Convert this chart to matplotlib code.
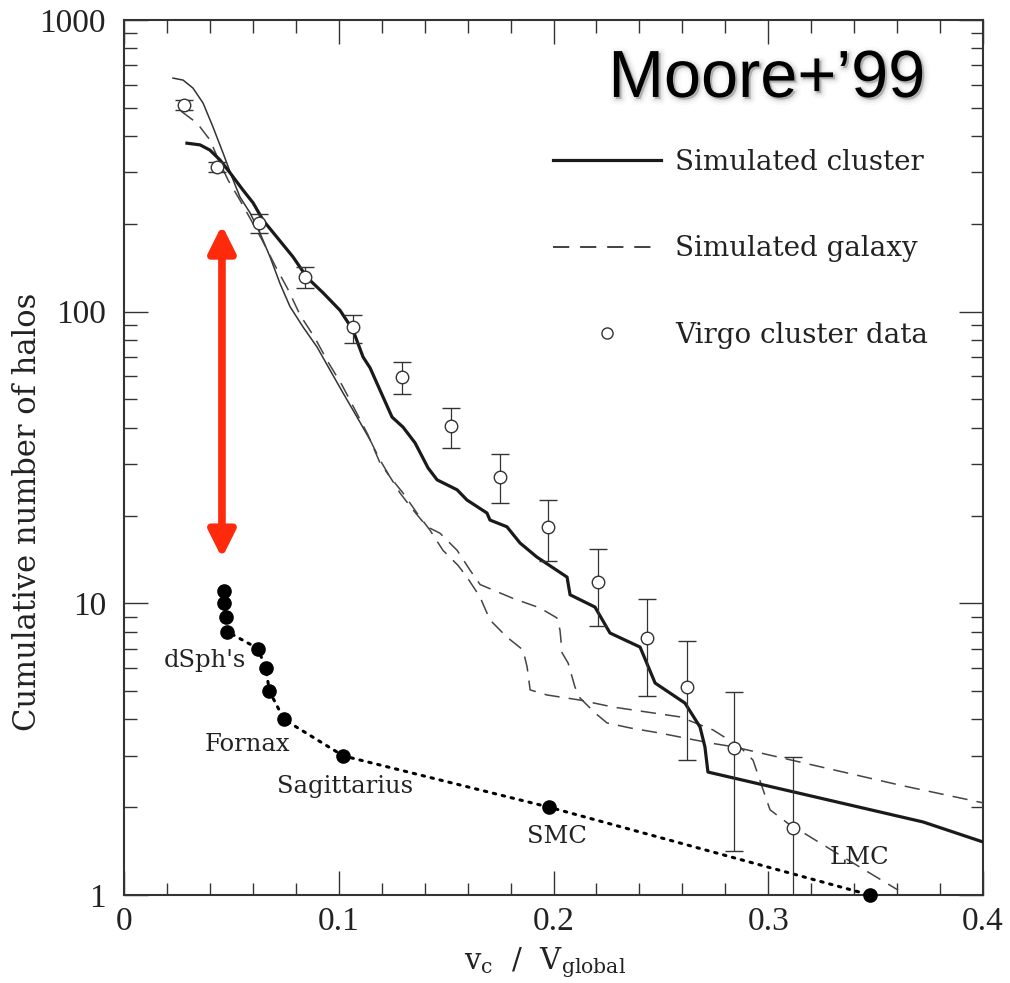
import numpy as np
import matplotlib
matplotlib.use('Agg')
import matplotlib.pyplot as plt
import matplotlib.patheffects as pe
from matplotlib.lines import Line2D
from matplotlib.ticker import FixedLocator, FixedFormatter, LogLocator, NullFormatter, MultipleLocator

plt.rcParams['font.family'] = 'DejaVu Serif'
plt.rcParams['mathtext.fontset'] = 'dejavuserif'

# Simulated cluster: cumulative halo counts vs v_c / V_global
cluster_v = [0.0293, 0.0354, 0.0400, 0.0447, 0.0494, 0.0554, 0.0601, 0.0647, 0.0712, 0.0787,
             0.0852, 0.0927, 0.1006, 0.1066, 0.1113, 0.1146, 0.1192, 0.1248, 0.1299, 0.1355,
             0.1416, 0.1458, 0.1551, 0.1597, 0.1690, 0.1704, 0.1783, 0.1844, 0.1923, 0.2063,
             0.2077, 0.2193, 0.2263, 0.2403, 0.2473, 0.2612, 0.2682, 0.2705, 0.2719, 0.3721, 0.4000]
cluster_n = [378, 373, 358, 331, 299, 261, 236, 206, 180, 154,
             131, 116, 101, 86.5, 69.9, 64.1, 53.8, 43.5, 40.2, 35.5,
             29.1, 26.5, 24.5, 22.6, 20.4, 19.3, 18.3, 16.1, 14.4, 12.3,
             10.7, 9.71, 7.91, 7.08, 5.33, 4.55, 3.77, 3.22, 2.64, 1.78, 1.52]

# Simulated galaxy, first run (thin line)
gal1_v = [0.0228, 0.0275, 0.0321, 0.0368, 0.0414, 0.0461, 0.0503, 0.0540, 0.0587, 0.0633,
          0.0680, 0.0726, 0.0773, 0.0834, 0.0899, 0.0959, 0.1020, 0.1085, 0.1146, 0.1192,
          0.1239, 0.1299, 0.1364, 0.1425, 0.1485, 0.1555, 0.1597, 0.1658, 0.1704, 0.1783,
          0.1858, 0.1877, 0.1891, 0.1970, 0.2123, 0.2277, 0.2463, 0.2589, 0.2743, 0.2868,
          0.2929, 0.2971, 0.3008, 0.3087, 0.3320, 0.3604]
gal1_n = [632, 622, 584, 519, 430, 350, 289, 247, 218, 186,
          154, 125, 104, 88.5, 75.6, 63.1, 52.6, 43.5, 36.3, 31.0,
          27.1, 23.9, 20.4, 17.8, 15.2, 13.5, 12.3, 10.5, 8.77, 7.66,
          6.92, 6.05, 5.05, 4.85, 4.66, 4.41, 4.21, 4.08, 3.68, 3.22,
          2.90, 2.35, 1.96, 1.77, 1.39, 1.04]
gal1_solid_end = 18   # the high end of this curve is drawn as a solid line

# Simulated galaxy, second run (dashed)
gal2_v = [0.0265, 0.0340, 0.0400, 0.0447, 0.0484, 0.0540, 0.0573, 0.0643, 0.0703, 0.0764,
          0.0820, 0.0889, 0.0950, 0.1015, 0.1076, 0.1136, 0.1192, 0.1239, 0.1285, 0.1346,
          0.1411, 0.1471, 0.1551, 0.1611, 0.1658, 0.1811, 0.1937, 0.2016, 0.2030, 0.2040,
          0.2068, 0.2100, 0.2123, 0.2193, 0.2249, 0.2356, 0.2496, 0.2589, 0.2729, 0.2841,
          0.3614, 0.4000]
gal2_n = [487, 443, 388, 323, 283, 241, 218, 176, 144, 119,
          97.3, 81.2, 67.2, 56.0, 46.0, 37.8, 30.3, 27.1, 23.9, 20.9,
          18.3, 17.4, 15.2, 13.0, 11.6, 10.4, 9.64, 8.91, 8.10, 6.76,
          6.24, 5.16, 4.74, 4.21, 3.89, 3.74, 3.59, 3.48, 3.32, 3.22,
          2.38, 2.07]

# Virgo cluster data with error bars
virgo_v = [0.0279, 0.0433, 0.0629, 0.0843, 0.1066, 0.1295, 0.1523, 0.1751, 0.1974, 0.2207,
           0.2435, 0.2622, 0.2841, 0.3115]
virgo_n = [511, 313, 201, 131.5, 88.6, 59.7, 40.5, 27.1, 18.3, 11.8, 7.6, 5.16, 3.19, 1.70]
virgo_lo = [491, 301, 186, 120.5, 78.1, 52.2, 34.1, 22.1, 14.0, 8.36, 4.81, 2.90, 1.415, 1.0]
virgo_hi = [531, 326, 216, 142, 97.3, 67.2, 46.7, 32.5, 22.6, 15.4, 10.35, 7.43, 4.96, 2.97]

# Local Group satellites
sat_v = [0.0467, 0.0467, 0.0475, 0.0481, 0.0623, 0.0660, 0.0677, 0.0745, 0.1021, 0.1980, 0.3474]
sat_n = [11, 10, 9, 8, 7, 6, 5, 4, 3, 2, 1]
sat_names = ["dSph's", 'Fornax', 'Sagittarius', 'SMC', 'LMC']
sat_name_v = [0.0377, 0.0573, 0.1029, 0.2016, 0.3427]
sat_name_n = [6.39, 3.29, 2.35, 1.59, 1.34]

# gap between galaxy and satellite counts
gap_v = 0.0456
gap_top, gap_bottom = 198, 14.3

fig = plt.figure(figsize=(10.10, 9.83), dpi=100)
ax = fig.add_axes([0.1228, 0.0895, 0.8505, 0.8902])

ink = '#1a1a1a'
ax.plot(cluster_v, cluster_n, color=ink, lw=2.3, solid_joinstyle='round', zorder=4)
ax.plot(gal1_v[:gal1_solid_end + 1], gal1_n[:gal1_solid_end + 1], color='#333333', lw=1.1, zorder=3)
ax.plot(gal1_v[gal1_solid_end:], gal1_n[gal1_solid_end:], color='#444444', lw=1.1,
        dashes=(10, 6), zorder=3)
ax.plot(gal2_v, gal2_n, color='#444444', lw=1.1, dashes=(10, 6), zorder=3)

virgo_n_arr = np.array(virgo_n)
yerr = [virgo_n_arr - np.array(virgo_lo), np.array(virgo_hi) - virgo_n_arr]
ax.errorbar(virgo_v, virgo_n, yerr=yerr, fmt='o', ms=9, mfc='white', mec='#333333', mew=1.0,
            ecolor='#333333', elinewidth=0.9, capsize=6.5, capthick=0.9, zorder=5)

ax.plot(sat_v, sat_n, color='black', lw=2.2, linestyle=(0, (0.8, 2.2)),
        dash_capstyle='round', zorder=4)
ax.plot(sat_v, sat_n, 'o', color='black', ms=9.5, zorder=6, clip_on=False)
for name, xv, nv in zip(sat_names, sat_name_v, sat_name_n):
    ax.text(xv, nv, name, fontsize=17.5, ha='center', va='center', color='#222222')

ax.annotate('', xy=(gap_v, gap_top), xytext=(gap_v, gap_bottom),
            arrowprops=dict(arrowstyle='<|-|>', color='#ff2a0c', lw=5.5,
                            mutation_scale=40, shrinkA=0, shrinkB=0), zorder=7)

ax.set_yscale('log')
ax.set_xlim(0, 0.4)
ax.set_ylim(1, 1000)

ax.xaxis.set_major_locator(FixedLocator([0, 0.1, 0.2, 0.3, 0.4]))
ax.xaxis.set_major_formatter(FixedFormatter(['0', '0.1', '0.2', '0.3', '0.4']))
ax.xaxis.set_minor_locator(MultipleLocator(0.02))
ax.yaxis.set_major_locator(FixedLocator([1, 10, 100, 1000]))
ax.yaxis.set_major_formatter(FixedFormatter(['1', '10', '100', '1000']))
ax.yaxis.set_minor_locator(LogLocator(base=10, subs=np.arange(2, 10)))
ax.yaxis.set_minor_formatter(NullFormatter())

ax.tick_params(which='both', direction='in', top=True, right=True, color='#333333')
ax.tick_params(which='major', length=17, width=1.0)
ax.tick_params(which='minor', length=9, width=1.0)
ax.tick_params(axis='y', which='major', pad=13)
ax.tick_params(axis='x', which='major', pad=8)
for lab in ax.get_xticklabels() + ax.get_yticklabels():
    lab.set_family('Liberation Serif')
    lab.set_fontsize(24)
    lab.set_color('#222222')
for sp in ax.spines.values():
    sp.set_linewidth(1.5)
    sp.set_color('#333333')

ax.set_ylabel('Cumulative number of halos', fontsize=22, color='#222222')
ax.yaxis.set_label_coords(-0.094, 0.438)
ax.set_xlabel(r'$\mathrm{v_c\ \ /\ \ V_{global}}$', fontsize=21, color='#222222')
ax.xaxis.set_label_coords(0.49, -0.058)

handles = [Line2D([], [], color=ink, lw=2.3),
           Line2D([], [], color='#333333', lw=1.3, dashes=(9, 6)),
           Line2D([], [], ls='none', marker='o', ms=8, mfc='white', mec='#333333', mew=1.0)]
ax.legend(handles, ['Simulated cluster', 'Simulated galaxy', 'Virgo cluster data'],
          loc='upper left', bbox_to_anchor=(0.499, 0.853), frameon=False, fontsize=20,
          handlelength=3.9, handletextpad=0.5, labelspacing=2.15, borderpad=0, borderaxespad=0,
          labelcolor='#222222')

ax.text(0.9325, 0.912, 'Moore+\u201999', transform=ax.transAxes, ha='right', va='baseline',
        family='Liberation Sans', fontsize=48, color='black', zorder=8,
        path_effects=[pe.Stroke(linewidth=8, foreground='#aaaaaa', alpha=0.06, offset=(1.5, -1.5)),
                      pe.Stroke(linewidth=5, foreground='#999999', alpha=0.09, offset=(1.5, -1.5)),
                      pe.Stroke(linewidth=2.5, foreground='#888888', alpha=0.12, offset=(1.5, -1.5)),
                      pe.Normal()])

fig.savefig('out.png', dpi=100, facecolor='white')
